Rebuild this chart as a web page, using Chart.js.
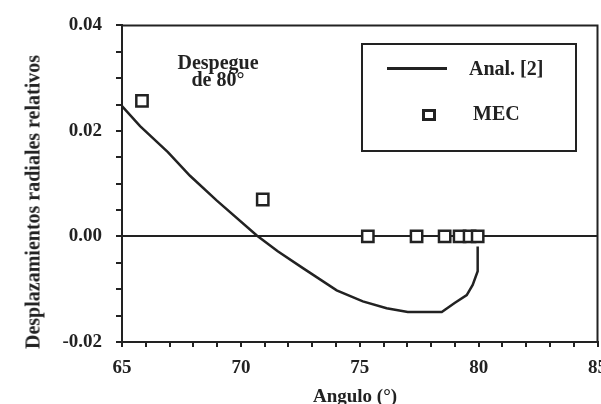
<!DOCTYPE html>
<html>
<head>
<meta charset="utf-8">
<script src="https://cdn.jsdelivr.net/npm/chart.js@4"></script>
<style>
  html, body { margin: 0; padding: 0; background: #fff; overflow: hidden; }
  #wrap { position: relative; width: 601px; height: 404px; overflow: hidden; }
  #chart { position: absolute; left: 0; top: 0; }
  .txt { position: absolute; font-family: 'Liberation Serif', 'Times New Roman', serif; font-weight: bold; color: #222; white-space: nowrap; }
  #ytitle { left: 33px; top: 202px; font-size: 20px; transform: translate(-50%, -50%) rotate(-90deg); }
  #xtitle { left: 355px; top: 396px; font-size: 19px; transform: translate(-50%, -50%); }
  #note { left: 218px; top: 54px; font-size: 20px; line-height: 17px; text-align: center; transform: translateX(-50%); }
  #legend { position: absolute; left: 361px; top: 43px; width: 216px; height: 109px; box-sizing: border-box; border: 2px solid #222; }
  #legLine { position: absolute; left: 24px; top: 22px; width: 60px; height: 3px; background: #222; }
  #legSq { position: absolute; left: 59px; top: 64px; width: 14px; height: 12px; box-sizing: border-box; border: 3px solid #222; background: #fff; }
  #legAnal { left: 106px; top: 12px; font-size: 20px; }
  #legMec { left: 110px; top: 57px; font-size: 20px; }
</style>
</head>
<body>
<div id="wrap">
  <canvas id="chart" width="617" height="404"></canvas>
  <div class="txt" id="ytitle">Desplazamientos radiales relativos</div>
  <div class="txt" id="xtitle">Angulo (°)</div>
  <div class="txt" id="note">Despegue<br>de 80°</div>
  <div id="legend">
    <div id="legLine"></div>
    <div class="txt" id="legAnal">Anal. [2]</div>
    <div id="legSq"></div>
    <div class="txt" id="legMec">MEC</div>
  </div>
</div>
<script>
// curva analitica (Anal. [2])
const analX = [65, 65.76, 66.93, 67.86, 68.99, 70.67, 71.55, 72.61, 74.03, 75.13, 76.13, 77.02, 78.45, 78.99, 79.50, 79.75, 79.96, 79.96];
const analY = [0.0247, 0.0209, 0.0160, 0.0115, 0.0068, 0.0002, -0.0028, -0.0060, -0.0102, -0.0123, -0.0136, -0.0143, -0.0143, -0.0126, -0.0111, -0.0092, -0.0066, -0.0019];

// puntos MEC
const mecX = [65.84, 70.92, 75.34, 77.39, 78.57, 79.2, 79.62, 79.96];
const mecY = [0.0257, 0.0070, 0, 0, 0, 0, 0, 0];

// ticks
const xMajor = [65, 70, 75, 80, 85];
const yMajor = [-0.02, 0.00, 0.02, 0.04];

const ink = '#222';
const tickFont = { family: "'Liberation Serif', serif", weight: 'bold', size: 19 };

const isMajor = (v, list) => list.some(m => Math.abs(m - v) < 1e-9);

// marco superior y derecho
const framePlugin = {
  id: 'frame',
  afterDraw(chart) {
    const { ctx, chartArea: a } = chart;
    ctx.save();
    ctx.strokeStyle = ink;
    ctx.lineWidth = 2;
    ctx.beginPath();
    ctx.moveTo(a.left, a.top);
    ctx.lineTo(a.right, a.top);
    ctx.lineTo(a.right, a.bottom);
    ctx.stroke();
    ctx.restore();
  }
};

new Chart(document.getElementById('chart').getContext('2d'), {
  type: 'scatter',
  data: {
    datasets: [
      {
        label: 'Anal. [2]',
        data: analX.map((x, i) => ({ x, y: analY[i] })),
        showLine: true,
        borderColor: ink,
        borderWidth: 2.5,
        pointRadius: 0,
        tension: 0
      },
      {
        label: 'MEC',
        data: mecX.map((x, i) => ({ x, y: mecY[i] })),
        showLine: false,
        pointStyle: 'rect',
        pointRadius: 8,
        pointBorderWidth: 2.5,
        pointBorderColor: ink,
        pointBackgroundColor: '#fff'
      }
    ]
  },
  options: {
    responsive: false,
    animation: false,
    layout: { padding: { top: 21, right: 0, left: 0, bottom: 0 } },
    plugins: { legend: { display: false }, tooltip: { enabled: false } },
    scales: {
      x: {
        type: 'linear',
        min: 65, max: 85,
        ticks: {
          stepSize: 1, autoSkip: false, maxRotation: 0, padding: 10,
          color: ink, font: tickFont,
          callback: v => isMajor(v, xMajor) ? String(v) : ''
        },
        grid: { drawOnChartArea: false, tickLength: 5, color: ink, lineWidth: 2 },
        border: { color: ink, width: 2 },
        afterFit: s => { s.height = 62; }
      },
      y: {
        min: -0.02, max: 0.04,
        ticks: {
          stepSize: 0.005, padding: 14,
          color: ink, font: tickFont,
          callback: v => isMajor(v, yMajor) ? v.toFixed(2) : ''
        },
        grid: {
          color: c => (c.tick && Math.abs(c.tick.value) < 1e-9) ? ink : 'rgba(0,0,0,0)',
          tickColor: ink, tickLength: 6, lineWidth: 2
        },
        border: { color: ink, width: 2 },
        afterFit: s => { s.width = 122; }
      }
    }
  },
  plugins: [framePlugin]
});
</script>
</body>
</html>
